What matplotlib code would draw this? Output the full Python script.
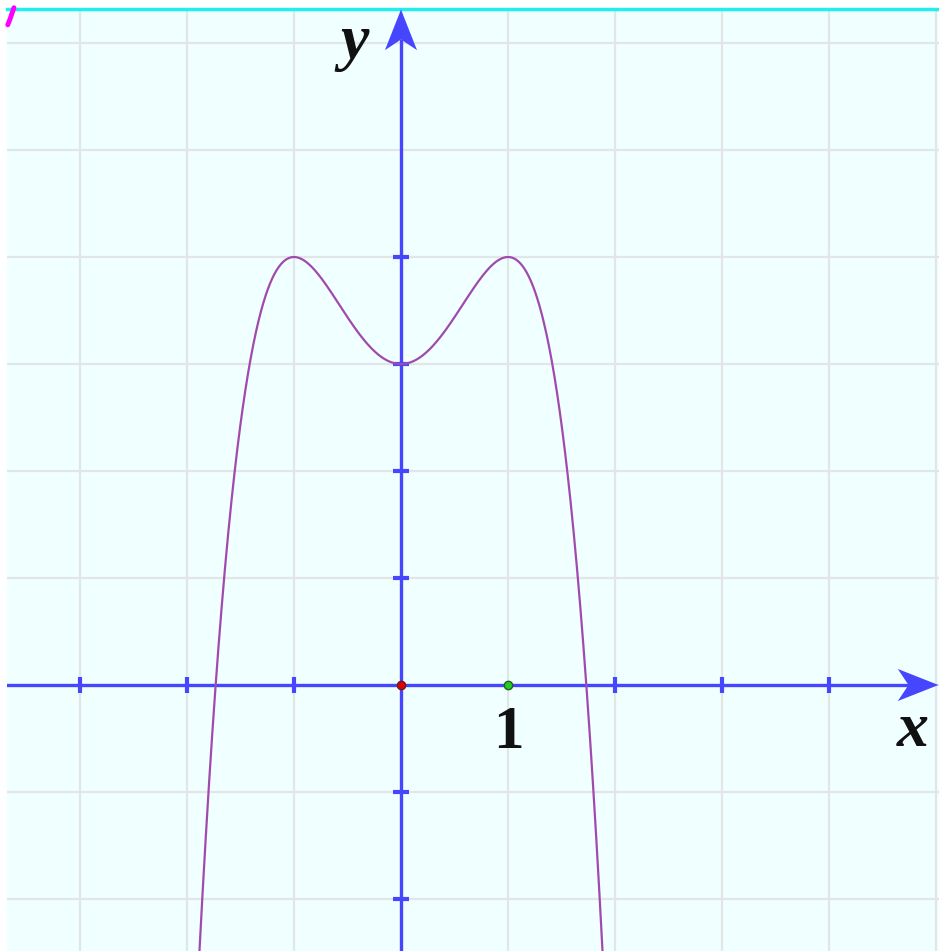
import numpy as np
import matplotlib.pyplot as plt
from matplotlib.patches import Polygon

# curve y = -x^4 + 2x^2 + 3  (highest power first)
poly_coeffs = [-1, 0, 2, 0, 3]
curve_x_range = [-2.0, 2.0]

x_limits = [-3.682, 5.028]
y_limits = [-2.486, 6.318]
grid_x = [-3, -2, -1, 0, 1, 2, 3, 4, 5]
grid_y = [-2, -1, 0, 1, 2, 3, 4, 5, 6]
x_axis_ticks = [-3, -2, -1, 2, 3, 4]
y_axis_ticks = [-2, -1, 1, 2, 3, 4]
unit_label = "1"
unit_label_pos = (1.0, -0.45)
x_label_pos = (4.78, -0.43)
y_label_pos = (-0.43, 6.0)
edge_mark_x = [-3.675, -3.655, -3.617]
edge_mark_y = [6.17, 6.22, 6.33]

BLUE = "#4646ff"
PURPLE = "#a14aae"
BG = "#f0ffff"


def arrow_head(ax, tip, direction):
    # notched arrow head, sizes in data units (1 unit ~ 107 px)
    length, half, notch = 0.38, 0.15, 0.28
    tx, ty = tip
    if direction == "up":
        pts = [(tx, ty), (tx - half, ty - length), (tx, ty - notch), (tx + half, ty - length)]
    else:
        pts = [(tx, ty), (tx - length, ty + half), (tx - notch, ty), (tx - length, ty - half)]
    ax.add_patch(Polygon(pts, closed=True, color=BLUE, zorder=5, lw=0))


fig = plt.figure(figsize=(9.39, 9.51), dpi=100)
fig.patch.set_facecolor("white")
ax = fig.add_axes([7 / 939, 0, 932 / 939, 942 / 951])
ax.set_facecolor(BG)
ax.set_xlim(*x_limits)
ax.set_ylim(*y_limits)

ax.set_xticks(grid_x)
ax.set_yticks(grid_y)
ax.tick_params(length=0, labelbottom=False, labelleft=False)
ax.grid(True, color="#e3e6e6", lw=1.6)
ax.set_axisbelow(True)
for side in ["left", "right", "bottom"]:
    ax.spines[side].set_visible(False)
ax.spines["top"].set_color("#22eeee")
ax.spines["top"].set_linewidth(2.5)

# axes lines
ax.plot([x_limits[0], x_limits[1] - 0.3], [0, 0], color=BLUE, lw=2.4, zorder=3)
ax.plot([0, 0], [y_limits[0], y_limits[1] - 0.3], color=BLUE, lw=2.4, zorder=3)
arrow_head(ax, (x_limits[1] - 0.005, 0), "right")
arrow_head(ax, (0, y_limits[1] - 0.005), "up")

ax.plot(x_axis_ticks, np.zeros(len(x_axis_ticks)), ls="none", marker="|",
        ms=11, mew=3, color=BLUE, zorder=3)
ax.plot(np.zeros(len(y_axis_ticks)), y_axis_ticks, ls="none", marker="_",
        ms=11, mew=3, color=BLUE, zorder=3)

# function graph
xs = np.linspace(curve_x_range[0], curve_x_range[1], 800)
ax.plot(xs, np.polyval(poly_coeffs, xs), color=PURPLE, lw=1.6, zorder=4)

ax.plot(edge_mark_x, edge_mark_y, color="#ff00ff", lw=3.5, solid_capstyle="round",
        zorder=6, clip_on=False)

# points
ax.plot([0], [0], marker="o", ms=6, mfc="#e00000", mec="#602020", mew=1, zorder=6)
ax.plot([1], [0], marker="o", ms=6, mfc="#22cc22", mec="#206020", mew=1, zorder=6)

ax.text(*unit_label_pos, unit_label, family="Liberation Serif", weight="bold",
        fontsize=44, ha="center", va="center", color="#111111")
ax.text(*x_label_pos, "x", family="Liberation Serif", weight="bold", style="italic",
        fontsize=46, ha="center", va="center", color="#111111")
ax.text(*y_label_pos, "y", family="Liberation Serif", weight="bold", style="italic",
        fontsize=46, ha="center", va="center", color="#111111")

fig.savefig("out.png", dpi=100)
